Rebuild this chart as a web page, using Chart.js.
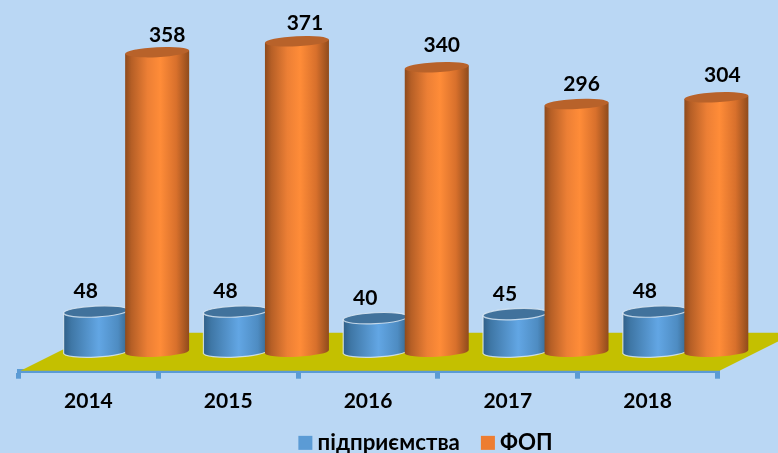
<!DOCTYPE html>
<html><head><meta charset="utf-8">
<style>html,body{margin:0;padding:0;background:#BAD7F4;}canvas{display:block;}</style>
<script src="https://cdn.jsdelivr.net/npm/chart.js@4"></script></head>
<body><canvas id="c" width="778" height="453"></canvas>
<script>
const categories = ['2014','2015','2016','2017','2018'];
const seriesNames = ['підприємства','ФОП'];
const companies = [48,48,40,45,48];
const fop = [358,371,340,296,304];
const seriesColors = ['#5B9BD5','#ED7D31'];
const FONT = 'Lato, "Open Sans", sans-serif';
const DEPTH_X = 38, DEPTH_Y = 19;
const LEGEND_SHIFT = 57.5;
const labelNudgeX = [[-10,-10,-10,-10,-10],[10,8,5,5,6]];
const labelNudgeY = [[0,0,0,0,0],[3,2,-2,0,-2]];
const looks = [
 {stops:[[0,'#2F5F88'],[.12,'#3F77A6'],[.55,'#62A6E4'],[.85,'#4E8CC2'],[1,'#38688F']],cap:'#41729C',edge:'rgba(225,236,246,.8)',ry:5.5},
 {stops:[[0,'#8E4A1C'],[.1,'#B65F26'],[.35,'#EC7F35'],[.55,'#FF8C38'],[.8,'#D8702C'],[1,'#8F4B1C']],cap:'#B8622A',edge:null,ry:5}
];
const TILT = -0.05;
const cylinders = {
 id:'cylinders',
 afterLayout(chart){
  const l = chart.legend;
  l.left += LEGEND_SHIFT; l.right += LEGEND_SHIFT;
 },
 beforeDatasetsDraw(chart){
  const {ctx,chartArea:a} = chart;
  const y0 = chart.scales.y.getPixelForValue(0);
  ctx.save();
  ctx.fillStyle = '#C4C000';
  ctx.beginPath();
  ctx.moveTo(a.left+2,y0);
  ctx.lineTo(a.right+2,y0);
  ctx.lineTo(a.right+2+DEPTH_X*2,y0-DEPTH_Y*2);
  ctx.lineTo(a.left+2+DEPTH_X*2,y0-DEPTH_Y*2);
  ctx.closePath();ctx.fill();
  ctx.restore();
  chart.data.datasets.forEach((ds,di)=>{
   const look = looks[di];
   chart.getDatasetMeta(di).data.forEach((el,i)=>{
    const w = el.width+2.5, r = w/2;
    const cx = el.x+DEPTH_X, top = el.y-DEPTH_Y, base = el.base-DEPTH_Y;
    const sy = r*Math.sin(TILT);
    ctx.save();
    const g = ctx.createLinearGradient(cx-r,0,cx+r,0);
    look.stops.forEach(s=>g.addColorStop(s[0],s[1]));
    ctx.fillStyle = g;
    ctx.beginPath();
    ctx.moveTo(cx-r,top-sy);
    ctx.lineTo(cx-r,base-sy);
    ctx.ellipse(cx,base,r,look.ry,TILT,Math.PI,0,true);
    ctx.lineTo(cx+r,top+sy);
    ctx.closePath();ctx.fill();
    if(look.edge){ctx.strokeStyle=look.edge;ctx.lineWidth=1.2;ctx.stroke();}
    ctx.fillStyle = look.cap;
    ctx.beginPath();ctx.ellipse(cx,top,r,look.ry,TILT,0,Math.PI*2);ctx.fill();
    if(look.edge){ctx.stroke();}
    ctx.fillStyle='#000';
    ctx.font='bold 21px '+FONT;
    ctx.textAlign='center';ctx.textBaseline='middle';
    ctx.fillText(String(ds.data[i]),cx+labelNudgeX[di][i],top-20+labelNudgeY[di][i]);
    ctx.restore();
   });
  });
  return false;
 },
 afterDraw(chart){
  const {ctx,legend} = chart;
  legend.legendHitBoxes.forEach((b,i)=>{
   ctx.fillStyle = seriesColors[i];
   ctx.fillRect(b.left,b.top+b.height/2-7,14,14);
  });
 }
};
new Chart(document.getElementById('c'),{
 type:'bar',
 plugins:[cylinders],
 data:{labels:categories,datasets:[
  {label:seriesNames[0],data:companies,backgroundColor:seriesColors[0],categoryPercentage:.88,barPercentage:1},
  {label:seriesNames[1],data:fop,backgroundColor:seriesColors[1],categoryPercentage:.88,barPercentage:1}
 ]},
 options:{
  responsive:false,animation:false,
  layout:{padding:{left:18.5,right:60.5,top:36,bottom:-11}},
  scales:{
   y:{display:false,min:0,max:400},
   x:{
    afterFit(s){s.height=40;},
    grid:{drawOnChartArea:false,color:'#5B9BD5',tickLength:8,lineWidth:5,tickWidth:5},
    border:{color:'#5B9BD5',width:4},
    ticks:{color:'#000',font:{family:FONT,size:21,weight:'bold'},padding:10,maxRotation:0}
   }
  },
  plugins:{
   tooltip:{enabled:false},
   legend:{position:'bottom',labels:{color:'#000',font:{family:FONT,size:22.3,weight:'bold'},boxWidth:8,boxHeight:14,padding:21,
    generateLabels(c){return c.data.datasets.map((d,i)=>({text:d.label,fillStyle:'rgba(0,0,0,0)',strokeStyle:'rgba(0,0,0,0)',lineWidth:0,datasetIndex:i,fontColor:'#000'}));}}}
  }
 }
});
</script></body></html>
